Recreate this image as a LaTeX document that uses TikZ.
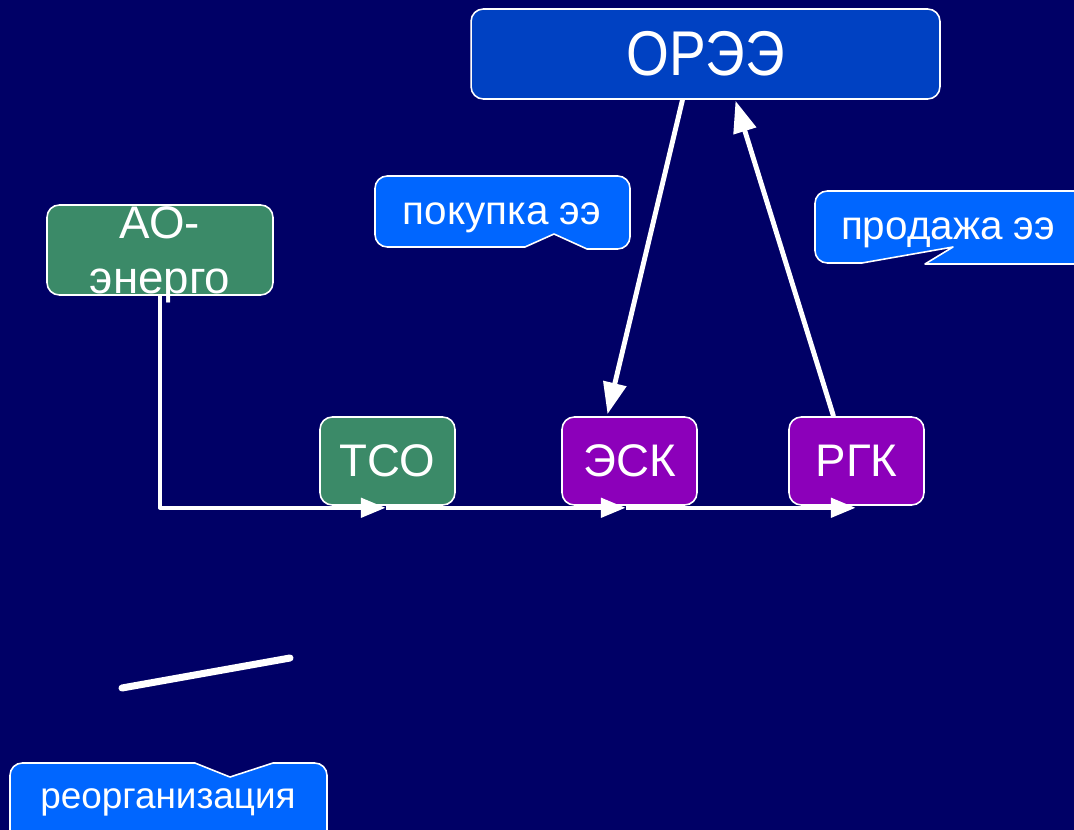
\documentclass[tikz,border=0pt]{standalone}
\usepackage{fontspec}
\setmainfont{Liberation Sans}
\newfontfamily\narrowfont{Liberation Sans}[FakeStretch=0.87]
\usetikzlibrary{arrows.meta,calc}
\definecolor{slidebg}{RGB}{0,0,102}
\definecolor{oreeblue}{RGB}{0,65,194}
\definecolor{calloutblue}{RGB}{0,102,255}
\definecolor{gridgreen}{RGB}{59,138,104}
\definecolor{salesviolet}{RGB}{140,0,186}
\tikzset{
	unit/.style={draw=white,line width=0.9pt,rounded corners=7pt,text=white,inner sep=0pt,
		minimum width=2.7cm,minimum height=1.76cm,font=\fontsize{26}{31}\selectfont},
	callout/.style={fill=calloutblue,draw=white,line width=0.9pt},
	calltext/.style={text=white,anchor=base,font=\fontsize{23}{28}\selectfont},
	flow/.style={draw=white,line width=2.8pt,-{Triangle[length=18pt,width=13pt]}},
	bus/.style={draw=white,line width=2.1pt,-{Triangle[length=14pt,width=11pt]}},
}
\begin{document}
\begin{tikzpicture}[x=0.02cm,y=-0.02cm,line join=round]
	\fill[slidebg] (0,0) rectangle (1074,830);
	\clip (0,0) rectangle (1074,830);
	% callouts
	\draw[callout] (554,234) -- (525,247) [rounded corners=7pt] -- (375,247) -- (375,176) -- (630,176) -- (630,249) [sharp corners] -- (587,249) -- cycle;
	\node[calltext] (buy) at (502,225) {покупка ээ};
	\draw[callout] (953,247) -- (862,263) [rounded corners=7pt] -- (815,263) -- (815,191) -- (1100,191) -- (1100,264) [sharp corners] -- (925,264) -- cycle;
	\node[calltext] (sell) at (948,240) {продажа ээ};
	\draw[callout] (230,777) -- (273,763) [rounded corners=7pt] -- (327,763) -- (327,850) -- (10,850) -- (10,763) [sharp corners] -- (195,763) -- cycle;
	\node[calltext,font=\fontsize{21}{25}\selectfont] (reorg) at (168,808) {реорганизация};
	% boxes
	\node[unit,fill=oreeblue,minimum width=9.38cm,minimum height=1.8cm,font=\narrowfont\fontsize{36}{43}\selectfont] (oree) at (705.5,54) {ОРЭЭ};
	\node[unit,fill=gridgreen,minimum width=4.52cm,minimum height=1.8cm,align=center,text depth=0pt] (aoe) at (160,250) {АО-\\энерго};
	\node[unit,fill=gridgreen] (tco) at (387.5,461) {ТСО};
	\node[unit,fill=salesviolet] (esk) at (629.5,461) {ЭСК};
	\node[unit,fill=salesviolet] (rgk) at (856.5,461) {РГК};
	% flows
	\draw[flow] ($(oree.south)+(-23,0)$) -- ($(esk.north)+(-22,-2)$);
	\draw[flow] ($(rgk.north)+(-23,0)$) -- ($(oree.south)+(30,1)$);
	\draw[bus] (aoe.south) |- ($(tco.south)+(-2,2)$) coordinate (t1);
	\draw[bus] (t1) -- ($(esk.south)+(-4,2)$) coordinate (t2);
	\draw[bus] (t2) -- ($(rgk.south)+(-1,2)$);
	\draw[white,line width=4pt,line cap=round] (122,688) -- (290,658);
\end{tikzpicture}
\end{document}
